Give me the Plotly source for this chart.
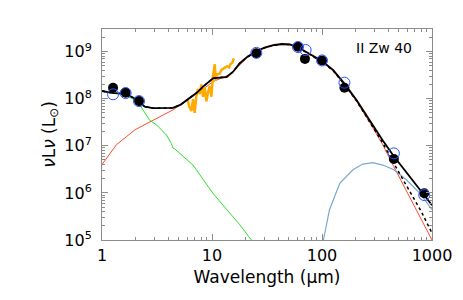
import plotly.graph_objects as go

# ---------------- data ----------------
# photometry (filled black)
obs_wl = [1.26, 1.64, 2.17, 25.3, 60.5, 70.0, 100.0, 160.0, 450.0, 850.0]
obs_val = [1.71e8, 1.34e8, 8.9e7, 9.2e8, 1.27e9, 7.0e8, 6.5e8, 1.71e8, 5.25e6, 9.8e5]
# model photometry (open blue)
mod_wl = [1.26, 1.64, 2.17, 25.3, 60.5, 71.0, 100.0, 160.0, 450.0, 850.0]
mod_val = [1.24e8, 1.32e8, 8.9e7, 9.4e8, 1.25e9, 1.08e9, 6.5e8, 2.19e8, 6.9e6, 9.0e5]

# total model (solid black)
tot_wl = [1.0, 1.27, 1.64, 2.0, 2.17, 2.45, 2.9, 3.5, 4.42, 5.2, 6.27, 7.3, 8.3, 9.2, 10.2,
          11.7, 13.5, 15.5, 17.8, 21, 25, 30, 36, 43, 51, 60, 77, 100, 126, 160, 206,
          270, 357, 450, 600, 800, 1000]
tot_val = [1.46e8, 1.31e8, 1.28e8, 1.0e8, 8.3e7, 6.8e7, 6.3e7, 6.3e7, 6.4e7, 7.5e7, 1.02e8,
           1.35e8, 1.8e8, 2.2e8, 2.7e8, 2.8e8, 2.9e8, 3.7e8, 5.6e8, 7.8e8, 1.0e9, 1.22e9,
           1.38e9, 1.45e9, 1.43e9, 1.25e9, 9.1e8, 6.3e8, 4.1e8, 2.1e8, 9.4e7, 3.5e7, 1.3e7,
           6.0e6, 2.5e6, 1.07e6, 5.5e5]
# model without cold component (dashed black)
dash_wl = [1.0, 1.27, 1.64, 2.0, 2.17, 2.45, 2.9, 3.5, 4.42, 5.2, 6.27, 7.3, 8.3, 9.2, 10.2,
           11.7, 13.5, 15.5, 17.8, 21, 25, 30, 36, 43, 51, 60, 77, 100, 126, 160, 206,
           270, 357, 450, 600, 800, 1000]
dash_val = [1.46e8, 1.31e8, 1.28e8, 1.0e8, 8.3e7, 6.8e7, 6.3e7, 6.3e7, 6.4e7, 7.5e7, 1.02e8,
            1.35e8, 1.8e8, 2.2e8, 2.7e8, 2.8e8, 2.9e8, 3.7e8, 5.6e8, 7.7e8, 9.8e8, 1.2e9,
            1.36e9, 1.43e9, 1.41e9, 1.23e9, 8.9e8, 6.1e8, 3.95e8, 2.0e8, 9.0e7, 3.3e7,
            1.15e7, 4.2e6, 1.3e6, 4.0e5, 1.4e5]
# warm dust (red)
red_wl = [1.0, 1.35, 2.0, 2.71, 3.5, 4.42, 5.84, 7.0, 8.3, 10.2, 12.0, 14.0, 16.0, 18.0,
          21, 25, 30, 36, 43, 51, 60, 77, 100, 126, 160, 206, 270, 357, 450, 600, 800, 1000]
red_val = [4.0e6, 1.05e7, 2.2e7, 3.2e7, 4.5e7, 5.8e7, 9.0e7, 1.2e8, 1.6e8, 2.3e8, 2.7e8,
           2.85e8, 4.0e8, 5.3e8, 7.5e8, 9.6e8, 1.18e9, 1.34e9, 1.41e9, 1.39e9, 1.21e9,
           8.8e8, 6.0e8, 3.9e8, 1.95e8, 8.8e7, 3.2e7, 1.05e7, 3.6e6, 1.0e6, 2.9e5, 1.0e5]
# stellar (green)
star_wl = [1.0, 1.27, 1.64, 2.12, 2.45, 2.71, 3.12, 3.85, 4.27, 4.42, 4.58, 6.72, 10.2,
           17.9, 22.8]
star_val = [1.42e8, 1.3e8, 1.2e8, 8.5e7, 5.0e7, 3.5e7, 2.8e7, 1.7e7, 1.12e7, 8.9e6, 8.6e6,
            3.9e6, 9.8e5, 2.1e5, 1.0e5]
# cold dust (light blue)
cold_wl = [103, 117, 145, 191, 235, 290, 357, 450, 585, 777, 1000]
cold_val = [1.0e5, 4.4e5, 1.6e6, 3.1e6, 4.1e6, 4.4e6, 3.9e6, 3.1e6, 1.9e6, 9.8e5, 4.4e5]
# IRS spectrum (orange)
irs_wl = [6.0, 6.18, 6.5, 6.72, 6.96, 7.21, 7.46, 7.73, 8.01, 8.28, 8.58, 8.89, 9.2, 9.53,
          9.88, 10.2, 10.6, 10.8, 11.1, 11.75, 12.2, 13.0, 13.7, 14.3, 14.7, 15.3, 15.8]
irs_val = [1.0e8, 7.0e7, 5.5e7, 9.8e7, 5.0e7, 1.15e8, 1.6e8, 1.25e8, 2.0e8, 1.1e8, 1.7e8,
           8.8e7, 1.35e8, 1.85e8, 1.1e8, 3.0e8, 5.4e8, 2.4e8, 3.3e8, 3.4e8, 4.1e8, 4.5e8,
           4.9e8, 4.6e8, 5.4e8, 5.8e8, 7.2e8]

x_ticks = [1, 10, 100, 1000]
x_ticktext = ["1", "10", "100", "1000"]
y_ticks = [1e5, 1e6, 1e7, 1e8, 1e9]
y_ticktext = ["10<sup>5</sup>", "10<sup>6</sup>", "10<sup>7</sup>", "10<sup>8</sup>", "10<sup>9</sup>"]
label = "II Zw 40"

# ---------------- figure ----------------
FONT = "DejaVu Sans, Liberation Sans, sans-serif"
AX = "#8c8c8c"
fig = go.Figure()
fig.add_trace(go.Scatter(x=red_wl, y=red_val, mode="lines",
                         line=dict(color="#ff4b2b", width=1)))
fig.add_trace(go.Scatter(x=star_wl, y=star_val, mode="lines",
                         line=dict(color="#2ee02e", width=1)))
fig.add_trace(go.Scatter(x=cold_wl, y=cold_val, mode="lines",
                         line=dict(color="#78a8d0", width=1.2)))
fig.add_trace(go.Scatter(x=irs_wl, y=irs_val, mode="lines",
                         line=dict(color="#ffaa00", width=2.5)))
fig.add_trace(go.Scatter(x=dash_wl, y=dash_val, mode="lines",
                         line=dict(color="black", width=1.5, dash="3px,3px")))
fig.add_trace(go.Scatter(x=tot_wl, y=tot_val, mode="lines",
                         line=dict(color="black", width=1.8)))
fig.add_trace(go.Scatter(x=obs_wl, y=obs_val, mode="markers",
                         marker=dict(color="black", size=10, line=dict(width=0))))
fig.add_trace(go.Scatter(x=mod_wl, y=mod_val, mode="markers",
                         marker=dict(color="rgba(0,0,0,0)", size=11,
                                     line=dict(color="#2a50ff", width=1))))

minor_x = [m * 10 ** k for k in range(0, 3) for m in range(2, 10)]
minor_y = [m * 10 ** k for k in range(5, 10) for m in range(2, 10)]

axis_common = dict(showgrid=False, zeroline=False, showline=True, linecolor=AX,
                   linewidth=1, mirror="allticks", ticks="inside", ticklen=6,
                   tickcolor=AX, automargin=False,
                   tickfont=dict(family=FONT, size=16, color="black"))

fig.update_xaxes(type="log", range=[0, 3], tickvals=x_ticks, ticktext=x_ticktext,
                 minor=dict(tickvals=minor_x, ticks="inside", ticklen=3, tickcolor=AX),
                 ticklabelstandoff=1,
                 title=dict(text="Wavelength (μm)", font=dict(family=FONT, size=17, color="black"),
                            standoff=6),
                 **axis_common)
fig.update_yaxes(type="log", range=[5, 9.48], tickvals=y_ticks, ticktext=y_ticktext,
                 minor=dict(tickvals=minor_y, ticks="inside", ticklen=3, tickcolor=AX),
                 ticklabelstandoff=6,
                 title=dict(text="<i>ν</i>L<i>ν</i> (L<sub>⊙</sub>)",
                            font=dict(family=FONT, size=17, color="black"), standoff=4),
                 **axis_common)

fig.add_annotation(xref="paper", yref="paper", text=label,
                   x=(384 - 102) / 330, y=1 - (48 - 29) / 211,
                   xanchor="center", yanchor="middle",
                   showarrow=False, font=dict(family=FONT, size=14, color="black"))

# The page body has an 8px default margin, so the figure is shifted by 8px;
# size and margins compensate so the plot area lands where the reference has it.
fig.update_layout(width=455, height=292, showlegend=False,
                  margin=dict(l=94, r=31, t=21, b=60),
                  paper_bgcolor="white", plot_bgcolor="white")
fig.write_html("out.html")
